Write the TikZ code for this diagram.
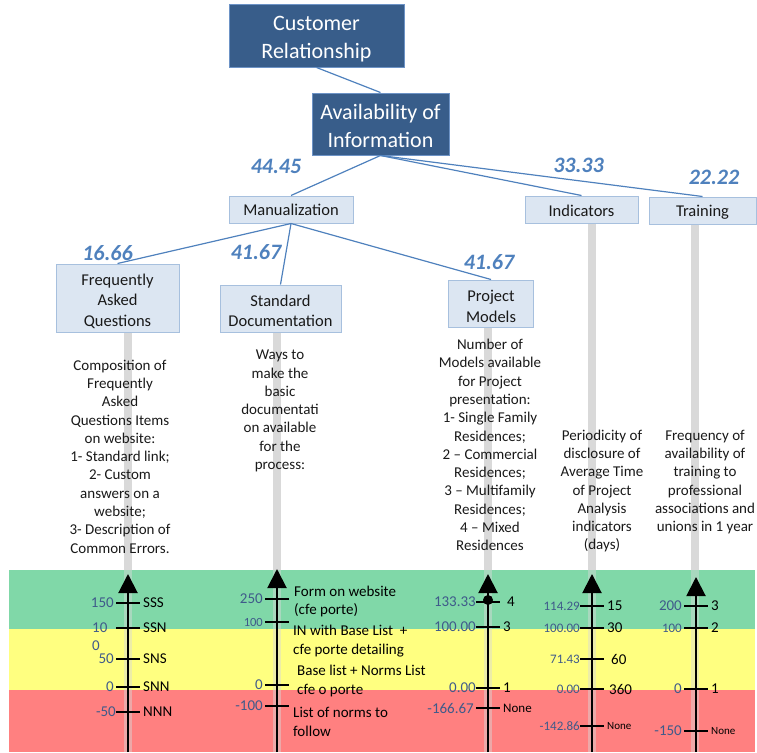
\documentclass[tikz,border=0pt]{standalone}
\usepackage{fontspec}
\setmainfont{Carlito}
\usetikzlibrary{arrows.meta}

\definecolor{darkfill}{HTML}{385D8A}
\definecolor{darkedge}{HTML}{6D93C6}
\definecolor{lightfill}{HTML}{DCE6F2}
\definecolor{lightedge}{HTML}{A7C0DE}
\definecolor{linkblue}{HTML}{4F81BD}
\definecolor{labblue}{HTML}{3F5A8A}
\definecolor{bargrey}{HTML}{D9D9D9}
\definecolor{bandgreen}{HTML}{80D8A8}
\definecolor{bandyellow}{HTML}{FFFF80}
\definecolor{bandred}{HTML}{FF8080}

% one scale mark: [left label options]{name}{axis x}{y}{left text}{right text}
\newcommand\scaletick[6][]{%
  \draw[tickline] (#3-12,#4) -- (#3+12,#4);
  \node[leftlab,#1] (#2-l) at (#3-12,#4) {#5};
  \node[rightlab] (#2-r) at (#3+12,#4) {#6};}

\begin{document}
\begin{tikzpicture}[x=1pt,y=-1pt,
  darkbox/.style={draw=darkedge,fill=darkfill,line width=1pt,inner sep=0pt},
  darktext/.style={text=white,align=center,inner sep=0pt,font=\fontsize{22}{28}\selectfont},
  lightbox/.style={draw=lightedge,fill=lightfill,line width=1pt,inner sep=0pt},
  lighttext/.style={text=black!90,align=center,inner sep=0pt,font=\fontsize{16.5}{20.5}\selectfont},
  link/.style={draw=linkblue,line width=1.2pt},
  weight/.style={text=linkblue,font=\bfseries\itshape\fontsize{22}{26}\selectfont},
  greybar/.style={draw=bargrey,line width=8pt},
  greybarlow/.style={draw=bargrey,line width=8pt,opacity=0.45},
  desc/.style={align=center,font=\fontsize{15}{18.3}\selectfont,text=black!90},
  axisline/.style={draw=black,line width=2pt,-{Triangle[width=19pt,length=19pt]}},
  tickline/.style={draw=black,line width=1.5pt},
  leftlab/.style={anchor=east,inner sep=2pt,text=labblue,font=\fontsize{15}{17}\selectfont},
  rightlab/.style={anchor=west,inner sep=3pt,text=black,font=\fontsize{15}{17}\selectfont},
  smalllab/.style={font=\fontsize{13}{15}\selectfont,inner sep=0pt},
]
\useasboundingbox (0,0) rectangle (757,752);

% rating bands
\fill[bandgreen] (9,570) rectangle (755,629);
\fill[bandyellow] (9,629) rectangle (755,690);
\fill[bandred] (9,690) rectangle (755,752);

% hierarchy boxes
\node[darkbox,minimum width=175,minimum height=62] (cr) at (316.5,36) {};
\node[darktext,yshift=-3.5pt] (cr-t) at (cr) {Customer\\Relationship};
\node[darkbox,minimum width=137,minimum height=62] (aoi) at (380.5,124) {};
\node[darktext,yshift=-2pt] (aoi-t) at (aoi) {Availability of\\Information};
\node[lightbox,minimum width=124,minimum height=27] (man) at (291,209.5) {};
\node[lighttext] (man-t) at (man) {Manualization};
\node[lightbox,minimum width=113,minimum height=27] (ind) at (581.5,209.5) {};
\node[lighttext,yshift=-1pt] (ind-t) at (ind) {Indicators};
\node[lightbox,minimum width=107,minimum height=27] (tra) at (702.5,210.5) {};
\node[lighttext,yshift=-1.5pt] (tra-t) at (tra) {Training};
\node[lightbox,minimum width=123,minimum height=68] (faq) at (117.5,298) {};
\node[lighttext,yshift=-3pt] (faq-t) at (faq) {Frequently\\Asked\\Questions};
\node[lightbox,minimum width=121,minimum height=47] (std) at (280.5,308.5) {};
\node[lighttext,yshift=-2.5pt] (std-t) at (std) {Standard\\Documentation};
\node[lightbox,minimum width=85,minimum height=47] (pm) at (491,303.5) {};
\node[lighttext,yshift=-3pt] (pm-t) at (pm) {Project\\Models};

% connectors
\draw[link] (cr.south) -- (aoi.north);
\draw[link] (aoi.south) -- (man.north);
\draw[link] (aoi.south) -- (ind.north);
\draw[link] (aoi.south) -- (tra.north);
\draw[link] (man.south) -- (faq.north);
\draw[link] (man.south) -- (std.north);
\draw[link] (man.south) -- (pm.north);

% weights
\node[weight] (w1) at (276,166) {44.45};
\node[weight] (w2) at (578.5,165) {33.33};
\node[weight] (w3) at (714,177) {22.22};
\node[weight] (w4) at (107.5,253) {16.66};
\node[weight] (w5) at (256,252) {41.67};
\node[weight] (w6) at (489,262) {41.67};

% grey bars below the criteria
\coordinate (bfaq) at (128,752);
\coordinate (bstd) at (277,752);
\coordinate (bpm) at (488,752);
\coordinate (bind) at (592,752);
\coordinate (btra) at (695,752);
\coordinate (mfaq) at (128,570);
\coordinate (mstd) at (277,570);
\coordinate (mpm) at (488,570);
\coordinate (mind) at (592,570);
\coordinate (mtra) at (695,570);
\draw[greybar] (faq.south -| mfaq) -- (mfaq);
\draw[greybar] (std.south -| mstd) -- (mstd);
\draw[greybar] (pm.south -| mpm) -- (mpm);
\draw[greybar] (ind.south -| mind) -- (mind);
\draw[greybar] (tra.south -| mtra) -- (mtra);
\draw[greybarlow] (mfaq) -- (bfaq);
\draw[greybarlow] (mstd) -- (bstd);
\draw[greybarlow] (mpm) -- (bpm);
\draw[greybarlow] (mind) -- (bind);
\draw[greybarlow] (mtra) -- (btra);

% descriptors
\node[desc] (dfaq) at (120,456.5) {Composition of\\Frequently\\Asked\\Questions Items\\on website:\\1- Standard link;\\2- Custom\\answers on a\\website;\\3- Description of\\Common Errors.};
\node[desc] (dstd) at (280,411) {Ways to\\make the\\basic\\documentati\\on available\\for the\\process:};
\node[desc] (dpm) at (490,445) {Number of\\Models available\\for Project\\presentation:\\1- Single Family\\Residences;\\2 -- Commercial\\Residences;\\3 -- Multifamily\\Residences;\\4 -- Mixed\\Residences};
\node[desc] (dind) at (602,491) {Periodicity of\\disclosure of\\Average Time\\of Project\\Analysis\\indicators\\(days)};
\node[desc] (dtra) at (705,482) {Frequency of\\availability of\\training to\\professional\\associations and\\unions in 1 year};

% scale axes
\coordinate (tfaq) at (128,574);
\coordinate (tstd) at (277,569);
\coordinate (tpm) at (488,574);
\coordinate (tind) at (592,574);
\coordinate (ttra) at (696,577);
\coordinate (b2tra) at (696,752);
\draw[axisline] (bfaq) -- (tfaq);
\draw[axisline] (bstd) -- (tstd);
\draw[axisline] (bpm) -- (tpm);
\draw[axisline] (bind) -- (tind);
\draw[axisline] (b2tra) -- (ttra);

% scale: frequently asked questions
\scaletick{f1}{128}{603}{150}{SSS}
\scaletick{f2}{128}{628}{}{SSN}
\node[leftlab,anchor=west,inner sep=0pt] (f2a) at (92,628) {10};
\node[leftlab,anchor=west,inner sep=0pt] (f2b) at (92,646) {0};
\scaletick{f3}{128}{659}{50}{SNS}
\scaletick{f4}{128}{687}{0}{SNN}
\scaletick[inner sep=0pt]{f5}{128}{712}{-50}{NNN}

% scale: standard documentation
\scaletick{s1}{277}{599}{250}{}
\scaletick[font=\fontsize{12.5}{14}\selectfont]{s2}{277}{622}{100}{}
\scaletick{s3}{277}{685}{0}{}
\scaletick{s4}{277}{706}{-100}{}
\node[rightlab,align=left,font=\fontsize{15}{18.5}\selectfont] (s1t) at (291,601.5) {Form on website\\(cfe porte)};
\node[rightlab,align=left,font=\fontsize{15}{18.5}\selectfont] (s2t) at (290,641) {IN with Base List\ \ +\\cfe porte detailing};
\node[rightlab,align=left,font=\fontsize{15}{18.5}\selectfont] (s3t) at (294,681) {Base list + Norms List\\cfe o porte};
\node[rightlab,align=left,font=\fontsize{15}{18.5}\selectfont] (s4t) at (290,722) {List of norms to\\follow};

% scale: project models
\fill[black] (488,600) circle (5);
\scaletick[inner sep=0pt]{p1}{488}{602}{133.33}{\hspace{4pt}4}
\scaletick[inner sep=0pt]{p2}{488}{627}{100.00}{3}
\scaletick[inner sep=0pt]{p3}{488}{688}{0.00}{1}
\scaletick{p4}{488}{708}{-166.67}{\fontsize{13}{15}\selectfont None}

% scale: indicators
\scaletick[smalllab]{i1}{592}{606}{114.29}{15}
\scaletick[smalllab]{i2}{592}{628}{100.00}{30}
\scaletick[smalllab]{i3}{592}{659}{71.43}{\hspace{4pt}60}
\scaletick[smalllab]{i4}{592}{689}{0.00}{\hspace{2pt}360}
\scaletick[smalllab]{i5}{592}{726}{-142.86}{\fontsize{11}{13}\selectfont None}

% scale: training
\scaletick{t1}{696}{606}{200}{3}
\scaletick[font=\fontsize{13}{15}\selectfont]{t2}{696}{628}{100}{2}
\scaletick{t3}{696}{689}{0}{1}
\scaletick{t4}{696}{731}{-150}{\fontsize{11}{13}\selectfont None}
\end{tikzpicture}
\end{document}
